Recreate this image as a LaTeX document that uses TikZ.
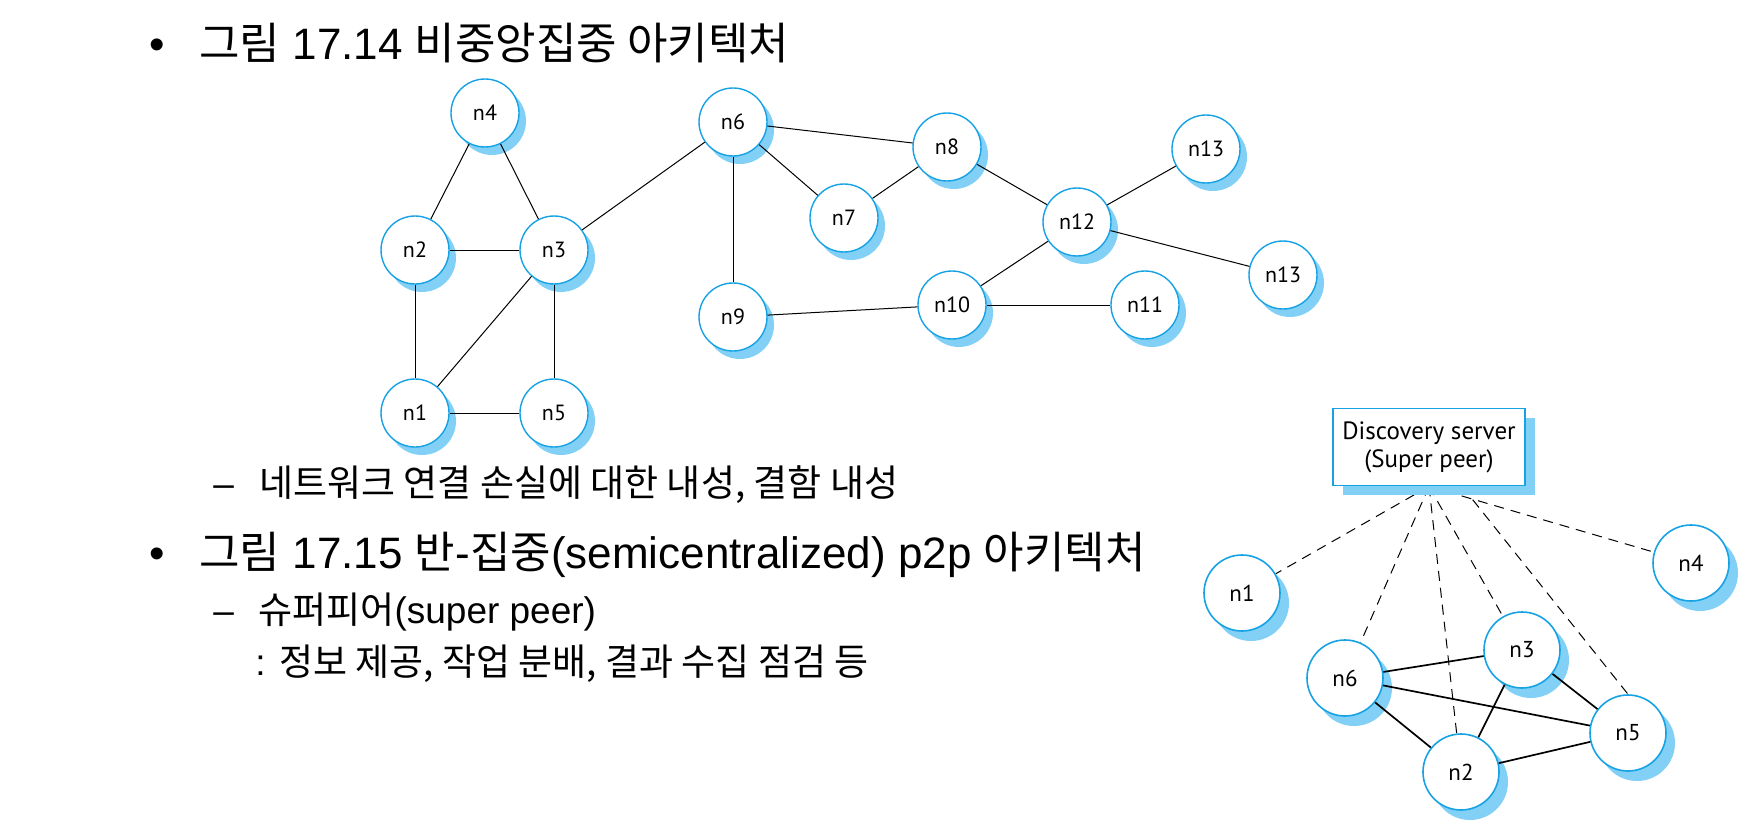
\documentclass[tikz,border=0pt]{standalone}
\usepackage{fontspec}
\setmainfont{Liberation Sans}
\newfontfamily\krfont{Noto Sans CJK KR}
\newfontfamily\peerfont{PT Sans}
\usetikzlibrary{positioning,shadows,backgrounds}
\definecolor{peerblue}{RGB}{22,162,228}
\definecolor{shadeblue}{RGB}{130,208,246}
\newcommand{\kr}[1]{{\krfont #1}}

\begin{document}
\begin{tikzpicture}[x=0.5pt,y=-0.5pt,
    peer/.style={circle,draw=peerblue,fill=white,inner sep=0pt},
    lpeer/.style={peer,line width=0.7pt,minimum size=34pt,
      font=\peerfont\fontsize{11}{12}\selectfont,
      drop shadow={shadow xshift=3.5pt,shadow yshift=-4pt,fill=shadeblue,opacity=1}},
    rpeer/.style={peer,line width=0.8pt,minimum size=38pt,
      font=\peerfont\fontsize{11.5}{12}\selectfont,
      drop shadow={shadow xshift=4.5pt,shadow yshift=-5pt,fill=shadeblue,opacity=1}},
    srvbox/.style={rectangle,draw=peerblue,line width=0.9pt,fill=white,
      minimum width=96pt,minimum height=38.5pt,inner sep=0pt,align=center,
      font=\peerfont\fontsize{12.5}{14}\selectfont,
      drop shadow={shadow xshift=5pt,shadow yshift=-4.5pt,fill=shadeblue,opacity=1}},
    link/.style={line width=0.5pt},
    plink/.style={line width=0.85pt},
    dlink/.style={line width=0.5pt,dash pattern=on 5pt off 3.5pt},
    txt/.style={anchor=base west,inner sep=0pt},
    big/.style={font=\fontsize{22}{26}\selectfont},
    small/.style={font=\fontsize{18.5}{22}\selectfont}]
\path[use as bounding box] (0,0) rectangle (1758,829);

% slide text
\node [txt,big]   (bul1)  at (149,60)  {•};
\node [txt,big]   (head1) at (199,60)  {\kr{그림} 17.14 \kr{비중앙집중 아키텍처}};
\node [txt,small] (dash1) at (213,496) {–};
\node [txt,small] (item1) at (259,496) {\kr{네트워크 연결 손실에 대한 내성, 결함 내성}};
\node [txt,big]   (bul2)  at (149,568) {•};
\node [txt,big]   (head2) at (199,568) {\kr{그림} 17.15 \kr{반}-\kr{집중}(semicentralized) p2p \kr{아키텍처}};
\node [txt,small] (dash2) at (213,623) {–};
\node [txt,small] (item2) at (258,623) {\kr{슈퍼피어}(super peer)};
\node [txt,small] (item3) at (255,675) {: \kr{정보 제공, 작업 분배, 결과 수집 점검 등}};

% Fig 17.14: decentralized network
\node [lpeer] (n4)   at (485,113)  {n4};
\node [lpeer] (n2)   at (415,250)  {n2} edge [link] (n4);
\node [lpeer] (n3)   at (554,250)  {n3} edge [link] (n4) edge [link] (n2);
\node [lpeer] (n1)   at (415,413)  {n1} edge [link] (n2) edge [link] (n3);
\node [lpeer] (n5)   at (554,413)  {n5} edge [link] (n3) edge [link] (n1);
\node [lpeer] (n6)   at (733,122)  {n6} edge [link] (n3);
\node [lpeer] (n7)   at (844,218)  {n7} edge [link] (n6);
\node [lpeer] (n8)   at (947,147)  {n8} edge [link] (n6) edge [link] (n7);
\node [lpeer] (n9)   at (733,317)  {n9} edge [link] (n6);
\node [lpeer] (n10)  at (952,305)  {n10} edge [link] (n9);
\node [lpeer] (n11)  at (1145,305) {n11} edge [link] (n10);
\node [lpeer] (n12)  at (1077,222) {n12} edge [link] (n8) edge [link] (n10);
\node [lpeer] (n13)  at (1206,149) {n13} edge [link] (n12);
\node [lpeer] (n13b) at (1283,275) {n13} edge [link] (n12);

% Fig 17.15: semicentralized p2p
\node [srvbox] (srv) at (1429,447) {Discovery server\\(Super peer)};
\node [rpeer] (p1) at (1242,593) {n1};
\node [rpeer] (p4) at (1691,563) {n4};
\node [rpeer] (p6) at (1345,678) {n6};
\node [rpeer] (p3) at (1522,650) {n3} edge [plink] (p6);
\node [rpeer] (p2) at (1461,772) {n2} edge [plink] (p6) edge [plink] (p3);
\node [rpeer] (p5) at (1628,733) {n5} edge [plink] (p6) edge [plink] (p3) edge [plink] (p2);
\begin{scope}[on background layer]
  \draw [dlink] (srv.south) -- (p1);
  \draw [dlink] (srv.south) -- (p6);
  \draw [dlink] (srv.south) -- (p2);
  \draw [dlink] (srv.south) -- (p3);
  \draw [dlink] (srv.-50) -- (p5.north);
  \draw [dlink] (srv.south) -- (p4);
\end{scope}
\end{tikzpicture}
\end{document}
